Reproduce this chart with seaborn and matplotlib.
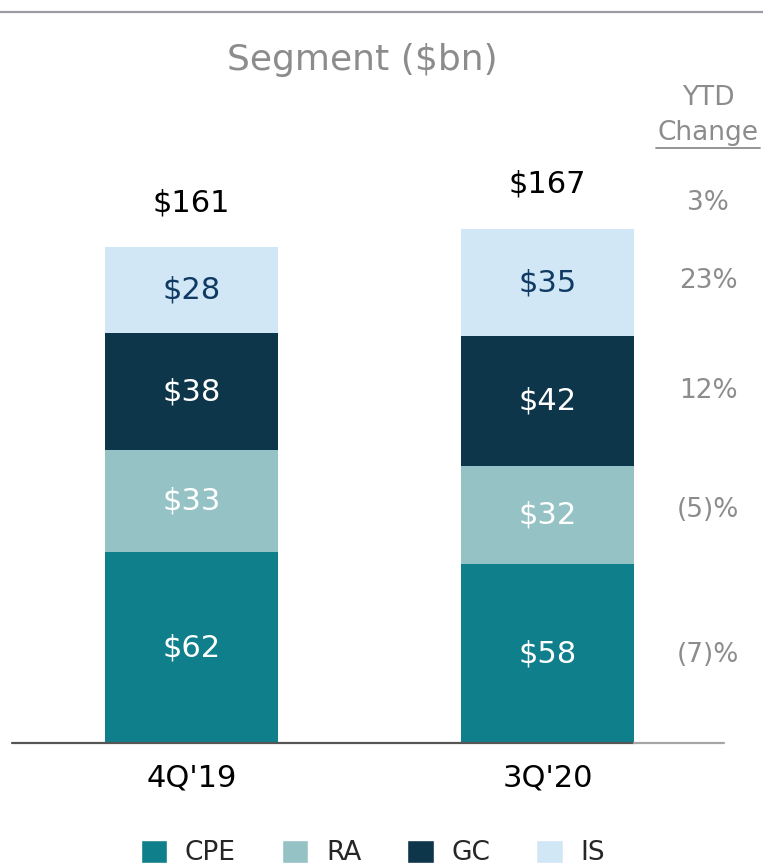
import matplotlib
matplotlib.use('Agg')
import matplotlib.pyplot as plt
from matplotlib.patches import Patch
from matplotlib.lines import Line2D
import pandas as pd
import seaborn as sns

# chart values ($bn)
quarters = ["4Q'19", "3Q'20"]
segments = ['CPE', 'RA', 'GC', 'IS']
cpe = [62, 58]
ra = [33, 32]
gc = [38, 42]
is_vals = [28, 35]
totals = [161, 167]
ytd_labels = ['3%', '23%', '12%', '(5)%', '(7)%']

colors = {'CPE': '#0E7F8B', 'RA': '#95C3C5', 'GC': '#0D364A', 'IS': '#D2E7F6'}
label_colors = {'CPE': 'white', 'RA': 'white', 'GC': 'white', 'IS': '#0F3A63'}
grey = '#8C8C8C'

df = pd.DataFrame({'quarter': quarters, 'CPE': cpe, 'RA': ra, 'GC': gc, 'IS': is_vals})
cum = df[segments].cumsum(axis=1)

sns.set_style('white')
plt.rcParams['font.family'] = ['DejaVu Sans']

fig = plt.figure(figsize=(7.63, 8.65), dpi=100)
ax = fig.add_axes([12 / 763, 122 / 865, 712 / 763, 643 / 865])

# stacked bars: draw cumulative heights from the top segment down
for seg in reversed(segments):
    sns.barplot(x=df['quarter'], y=cum[seg], order=quarters, color=colors[seg],
                saturation=1, width=0.486, linewidth=0, errorbar=None, ax=ax)

ax.set_xlim(-0.504, 1.496)
ax.set_ylim(0, 643 / 3.08)

# segment labels
for i in range(len(quarters)):
    for seg in segments:
        v = df.loc[i, seg]
        mid = cum.loc[i, seg] - v / 2
        ax.text(i, mid, f'${v}', ha='center', va='center', fontsize=22,
                color=label_colors[seg])
    ax.annotate(f'${totals[i]}', (i, totals[i]), xytext=(0, 32),
                textcoords='offset points', ha='center', va='center',
                fontsize=22, color='black')

# YTD change column
ytd_pos = [175.4, 150.0, 114.3, 75.6, 28.6]
for lab, y in zip(ytd_labels, ytd_pos):
    ax.text(0.9775, y, lab, transform=ax.get_yaxis_transform(), ha='center',
            va='center', fontsize=19, color=grey)

fig.text(708 / 763, 1 - 98 / 865, 'YTD', ha='center', va='center', fontsize=19, color=grey)
fig.text(708 / 763, 1 - 133 / 865, 'Change', ha='center', va='center', fontsize=19, color=grey)
fig.add_artist(Line2D([656 / 763, 760 / 763], [1 - 148 / 865] * 2, color=grey, lw=1.3,
                      transform=fig.transFigure))

# title and top rule
fig.text(362 / 763, 1 - 60 / 865, 'Segment ($bn)', ha='center', va='center',
         fontsize=26, color=grey)
fig.add_artist(Line2D([0, 1], [1 - 12 / 865] * 2, color='#9B9BA5', lw=1.6,
                      transform=fig.transFigure))

# axes styling
sns.despine(ax=ax, left=True, bottom=True)
ax.set_xlabel('')
ax.set_ylabel('')
ax.set_yticks([])
ax.tick_params(axis='x', length=0, pad=14.5, labelsize=22, labelcolor='black')
ax.axhline(0, xmin=0, xmax=0.8736, color='#555555', lw=1.6, zorder=3, clip_on=False)
ax.axhline(0, xmin=0.8736, xmax=1, color='#A6A6A6', lw=1.6, zorder=3, clip_on=False)

handles = [Patch(facecolor=colors[s], label=s) for s in segments]
fig.legend(handles=handles, loc='center', bbox_to_anchor=(373 / 763, 1 - 853 / 865),
           ncol=4, frameon=False, fontsize=19, handlelength=1.0, handleheight=1.0,
           handletextpad=0.68, columnspacing=1.74, borderpad=0, borderaxespad=0)

fig.savefig('out.png', dpi=100)
